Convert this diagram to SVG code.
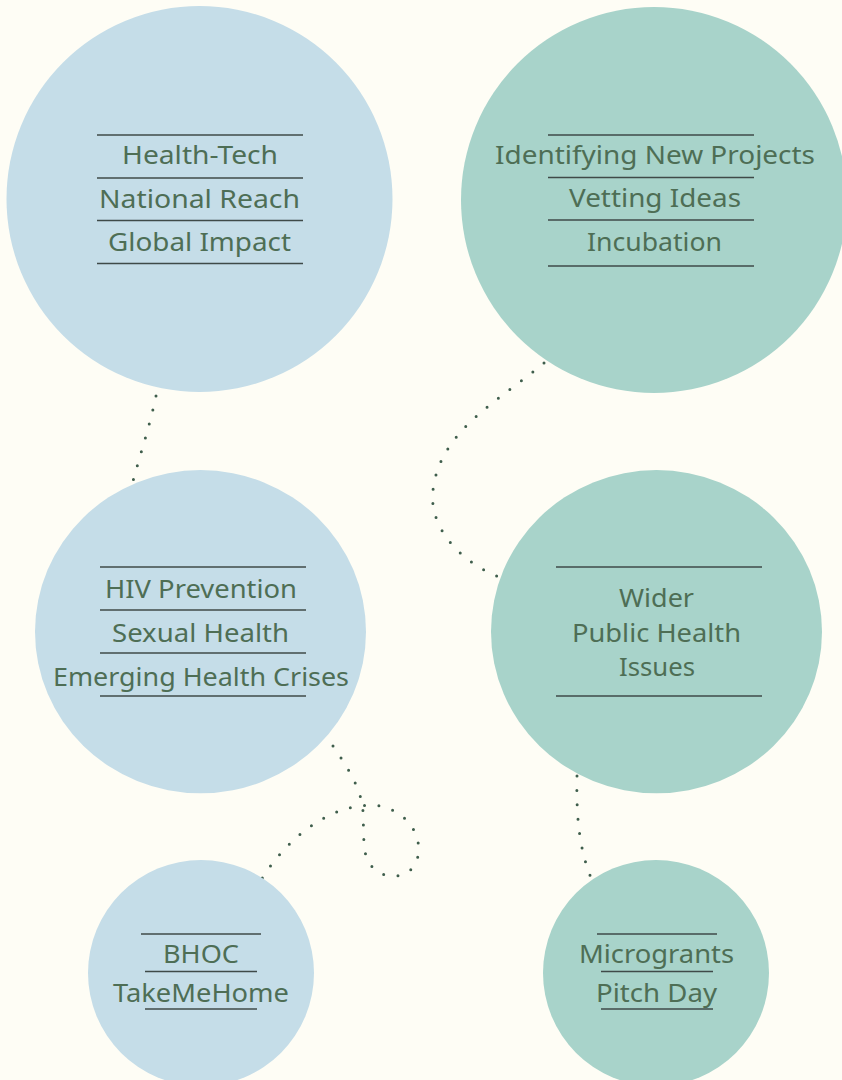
<svg xmlns="http://www.w3.org/2000/svg" width="842" height="1080" viewBox="0 0 842 1080">
<style>
.blue{fill:#c5dde8}
.green{fill:#a8d3ca}
.t{font-family:"Noto Sans","Open Sans",sans-serif;font-size:26px;fill:#4e6e55;text-anchor:start}
.rule{stroke:#3f4a48;stroke-width:1.3}
.dots{fill:none;stroke:#3f5e4c;stroke-width:3;stroke-linecap:round;stroke-dasharray:0 14.4}
</style>
<rect width="842" height="1080" fill="#fefdf5"/>
<g id="connectors">
<path class="dots" d="M156,396 C 150,425 140,455 133,481"/>
<path class="dots" d="M544,363 C 500,400 440,430 433,490 C 428,530 465,565 502,578"/>
<path class="dots" d="M333,746 C 348,768 362,790 363,812 L 364,845 C 366,868 380,877 397,876 C 414,874 421,858 418,842 C 415,825 400,810 380,806 C 340,800 292,830 261,880"/>
<path class="dots" d="M577,776 C 576,820 580,850 591,878"/>
</g>
<g id="node-health-tech">
<circle class="blue" cx="199.5" cy="199" r="193"/>
<line class="rule" x1="97" y1="135" x2="303" y2="135"/>
<line class="rule" x1="97" y1="178" x2="303" y2="178"/>
<line class="rule" x1="97" y1="220.5" x2="303" y2="220.5"/>
<line class="rule" x1="97" y1="263.5" x2="303" y2="263.5"/>
<text class="t" x="122" y="164" textLength="156" lengthAdjust="spacingAndGlyphs">Health-Tech</text>
<text class="t" x="99" y="208" textLength="201" lengthAdjust="spacingAndGlyphs">National Reach</text>
<text class="t" x="108" y="251" textLength="183" lengthAdjust="spacingAndGlyphs">Global Impact</text>
</g>
<g id="node-projects">
<circle class="green" cx="654" cy="200" r="193"/>
<line class="rule" x1="548" y1="135" x2="754" y2="135"/>
<line class="rule" x1="548" y1="177.5" x2="754" y2="177.5"/>
<line class="rule" x1="548" y1="220" x2="754" y2="220"/>
<line class="rule" x1="548" y1="266" x2="754" y2="266"/>
<text class="t" x="495" y="164" textLength="320" lengthAdjust="spacingAndGlyphs">Identifying New Projects</text>
<text class="t" x="569" y="207" textLength="172" lengthAdjust="spacingAndGlyphs">Vetting Ideas</text>
<text class="t" x="587" y="251" textLength="135" lengthAdjust="spacingAndGlyphs">Incubation</text>
</g>
<g id="node-hiv">
<ellipse class="blue" cx="200.5" cy="631.7" rx="165.5" ry="161.6"/>
<line class="rule" x1="100" y1="567" x2="306" y2="567"/>
<line class="rule" x1="100" y1="610" x2="306" y2="610"/>
<line class="rule" x1="100" y1="653" x2="306" y2="653"/>
<line class="rule" x1="100" y1="696" x2="306" y2="696"/>
<text class="t" x="105" y="598" textLength="192" lengthAdjust="spacingAndGlyphs">HIV Prevention</text>
<text class="t" x="112" y="642" textLength="177" lengthAdjust="spacingAndGlyphs">Sexual Health</text>
<text class="t" x="53" y="686" textLength="296" lengthAdjust="spacingAndGlyphs">Emerging Health Crises</text>
</g>
<g id="node-public-health">
<ellipse class="green" cx="656.5" cy="631.7" rx="165.5" ry="161.6"/>
<line class="rule" x1="556" y1="567" x2="762" y2="567"/>
<line class="rule" x1="556" y1="696" x2="762" y2="696"/>
<text class="t" x="619" y="607" textLength="75" lengthAdjust="spacingAndGlyphs">Wider</text>
<text class="t" x="572" y="642" textLength="169" lengthAdjust="spacingAndGlyphs">Public Health</text>
<text class="t" x="619" y="676" textLength="76" lengthAdjust="spacingAndGlyphs">Issues</text>
</g>
<g id="node-bhoc">
<circle class="blue" cx="201" cy="973" r="113"/>
<line class="rule" x1="141" y1="934" x2="261" y2="934"/>
<line class="rule" x1="145" y1="971.5" x2="257" y2="971.5"/>
<line class="rule" x1="145" y1="1009" x2="257" y2="1009"/>
<text class="t" x="163" y="963" textLength="76" lengthAdjust="spacingAndGlyphs">BHOC</text>
<text class="t" x="113" y="1002" textLength="176" lengthAdjust="spacingAndGlyphs">TakeMeHome</text>
</g>
<g id="node-microgrants">
<circle class="green" cx="656" cy="973" r="113"/>
<line class="rule" x1="597" y1="934" x2="717" y2="934"/>
<line class="rule" x1="601" y1="971.5" x2="713" y2="971.5"/>
<line class="rule" x1="601" y1="1009" x2="713" y2="1009"/>
<text class="t" x="579" y="963" textLength="155" lengthAdjust="spacingAndGlyphs">Microgrants</text>
<text class="t" x="596" y="1002" textLength="121" lengthAdjust="spacingAndGlyphs">Pitch Day</text>
</g>
</svg>
